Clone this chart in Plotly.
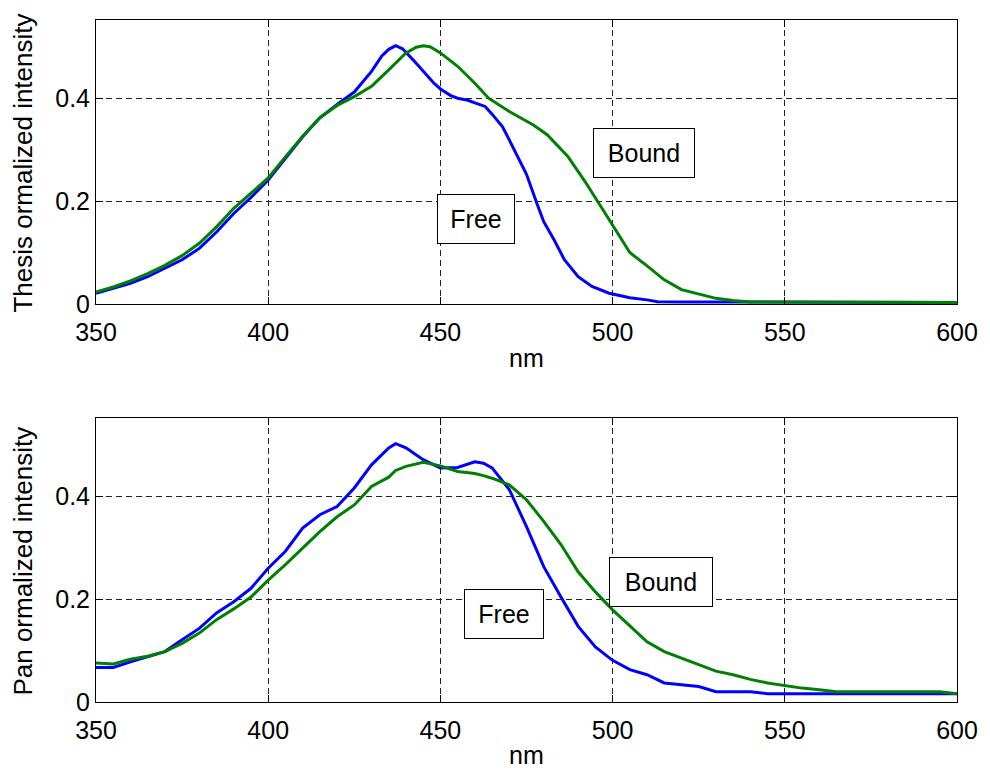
import plotly.graph_objects as go

# ---------------- Thesis spectra ----------------
thesis_free_nm = [350, 355, 360, 365, 370, 375, 380, 385, 390, 395, 400, 405, 410, 415,
                  420, 425, 430, 433, 435, 437, 439, 442, 445, 448, 450, 453, 455, 458,
                  460, 463, 465, 468, 470, 472, 475, 478, 480, 483, 486, 490, 494, 499,
                  505, 510, 513, 520, 600]
thesis_free = [0.021, 0.030, 0.040, 0.053, 0.069, 0.086, 0.108, 0.140, 0.176, 0.207, 0.241, 0.283,
               0.325, 0.362, 0.388, 0.412, 0.452, 0.482, 0.495, 0.502, 0.496, 0.475, 0.452, 0.430,
               0.418, 0.405, 0.400, 0.396, 0.391, 0.384, 0.369, 0.345, 0.319, 0.292, 0.252, 0.196,
               0.160, 0.125, 0.086, 0.053, 0.034, 0.021, 0.012, 0.008, 0.0045, 0.004, 0.003]

thesis_bound_nm = [350, 355, 360, 365, 370, 375, 380, 385, 390, 395, 400, 405, 410, 415,
                   420, 425, 430, 435, 438, 440, 443, 445, 447, 450, 455, 460, 464, 470,
                   477, 481, 487, 492, 497, 502, 505, 510, 515, 520, 525, 530, 535, 540, 600]
thesis_bound = [0.023, 0.033, 0.045, 0.059, 0.075, 0.094, 0.118, 0.150, 0.186, 0.215, 0.245, 0.286,
                0.326, 0.362, 0.386, 0.403, 0.423, 0.455, 0.474, 0.488, 0.499, 0.502, 0.500, 0.488,
                0.462, 0.429, 0.400, 0.374, 0.348, 0.329, 0.287, 0.238, 0.185, 0.131, 0.100, 0.074,
                0.047, 0.028, 0.019, 0.011, 0.007, 0.004, 0.003]

# ---------------- Pan spectra ----------------
pan_free_nm = [350, 355, 360, 365, 370, 375, 380, 385, 390, 395, 400, 405, 410, 415, 420, 425,
               430, 435, 437, 440, 445, 450, 455, 460, 462.5, 465, 470, 475, 480, 485, 490, 495,
               500, 505, 510, 515, 520, 525, 530, 535, 540, 545, 550, 600]
pan_free = [0.067, 0.067, 0.078, 0.088, 0.098, 0.121, 0.143, 0.173, 0.195, 0.221, 0.260, 0.293,
            0.338, 0.364, 0.380, 0.416, 0.461, 0.494, 0.502, 0.494, 0.471, 0.455, 0.456, 0.467,
            0.464, 0.455, 0.413, 0.341, 0.263, 0.204, 0.147, 0.107, 0.081, 0.063, 0.053, 0.037,
            0.033, 0.030, 0.020, 0.020, 0.020, 0.016, 0.016, 0.016]

pan_bound_nm = [350, 355, 360, 365, 370, 375, 380, 385, 390, 395, 400, 405, 410, 415, 420, 425,
                430, 435, 437, 440, 445, 450, 455, 460, 462.5, 465, 470, 475, 480, 485, 490, 495,
                500, 505, 510, 515, 520, 525, 530, 535, 540, 545, 550, 555, 560, 565, 595, 600]
pan_bound = [0.076, 0.074, 0.083, 0.089, 0.098, 0.114, 0.134, 0.160, 0.181, 0.204, 0.237, 0.267,
             0.299, 0.331, 0.360, 0.383, 0.419, 0.437, 0.450, 0.458, 0.466, 0.459, 0.448, 0.444,
             0.440, 0.435, 0.422, 0.393, 0.351, 0.306, 0.253, 0.214, 0.179, 0.147, 0.117, 0.098,
             0.085, 0.072, 0.060, 0.053, 0.044, 0.037, 0.032, 0.027, 0.024, 0.020, 0.020, 0.016]

x_ticks = [350, 400, 450, 500, 550, 600]
x_tick_text = ["350", "400", "450", "500", "550", "600"]
y_ticks = [0, 0.2, 0.4]
y_tick_text = ["0", "0.2", "0.4"]

panel_titles = ["Thesis ormalized intensity", "Pan ormalized intensity"]
x_title = "nm"
# (label, wavelength, intensity, box width) for each panel
panel_labels = [
    [("Free", 460.2, 0.165, 76), ("Bound", 509.1, 0.293, 100)],
    [("Free", 468.6, 0.171, 78), ("Bound", 514.0, 0.233, 102)],
]

BLUE = "#0000ff"
GREEN = "#008000"
FONT = "Liberation Sans, Arial, Helvetica, sans-serif"
FS = 25

W, H = 990, 770
ML, MR, MT, MB = 96, 26, 20, 68
PW = W - ML - MR
PH = H - MT - MB

fig = go.Figure()

series = [
    (thesis_free_nm, thesis_free, thesis_bound_nm, thesis_bound, "x", "y"),
    (pan_free_nm, pan_free, pan_bound_nm, pan_bound, "x2", "y2"),
]
for fx, fy, bx, by, xa, ya in series:
    fig.add_trace(go.Scatter(x=fx, y=fy, mode="lines", line=dict(color=BLUE, width=3),
                             xaxis=xa, yaxis=ya, showlegend=False))
    fig.add_trace(go.Scatter(x=bx, y=by, mode="lines", line=dict(color=GREEN, width=3),
                             xaxis=xa, yaxis=ya, showlegend=False))

axis_common = dict(
    showline=True, linecolor="black", linewidth=1, mirror="ticks",
    ticks="inside", ticklen=7, tickcolor="black", tickwidth=1,
    showgrid=True, gridcolor="#222222", gridwidth=1, griddash="6px,4px",
    zeroline=False, tickfont=dict(family=FONT, size=FS, color="black"),
)

top_dom = [(702 - 304) / PH, 1.0]
bot_dom = [0.0, (702 - 418) / PH]

fig.update_layout(
    width=W, height=H,
    margin=dict(l=ML, r=MR, t=MT, b=MB),
    paper_bgcolor="white", plot_bgcolor="white",
    font=dict(family=FONT, size=FS, color="black"),
    xaxis=dict(domain=[0, 1], anchor="y", range=[350, 600], tickvals=x_ticks,
               ticktext=x_tick_text, ticklabelstandoff=6, **axis_common),
    yaxis=dict(domain=top_dom, anchor="x", range=[0, 0.552], tickvals=y_ticks,
               ticktext=y_tick_text, **axis_common),
    xaxis2=dict(domain=[0, 1], anchor="y2", range=[350, 600], tickvals=x_ticks,
                ticktext=x_tick_text, ticklabelstandoff=6, **axis_common),
    yaxis2=dict(domain=bot_dom, anchor="x2", range=[0, 0.552], tickvals=y_ticks,
                ticktext=y_tick_text, **axis_common),
)

annotations = []
# axis titles
for title, yc in zip(panel_titles, [(702 - 163) / PH, (702 - 561) / PH]):
    annotations.append(dict(text=title, xref="paper", yref="paper", x=(22 - ML) / PW, y=yc,
                            xanchor="center", yanchor="middle", textangle=-90, showarrow=False,
                            font=dict(family=FONT, size=26, color="black")))
for yc in [(702 - 358) / PH, (702 - 755) / PH]:
    annotations.append(dict(text=x_title, xref="paper", yref="paper", x=0.5, y=yc,
                            xanchor="center", yanchor="middle", showarrow=False,
                            font=dict(family=FONT, size=FS, color="black")))

# boxed curve labels
for (xa, ya), labels in zip([("x", "y"), ("x2", "y2")], panel_labels):
    for text, xv, yv, w in labels:
        annotations.append(dict(text=text, xref=xa, yref=ya, x=xv, y=yv, showarrow=False,
                                xanchor="center", yanchor="middle", width=w, height=48,
                                bgcolor="white", bordercolor="black", borderwidth=1, borderpad=0,
                                font=dict(family=FONT, size=25, color="black")))

fig.update_layout(annotations=annotations)

fig.write_html("out.html")
